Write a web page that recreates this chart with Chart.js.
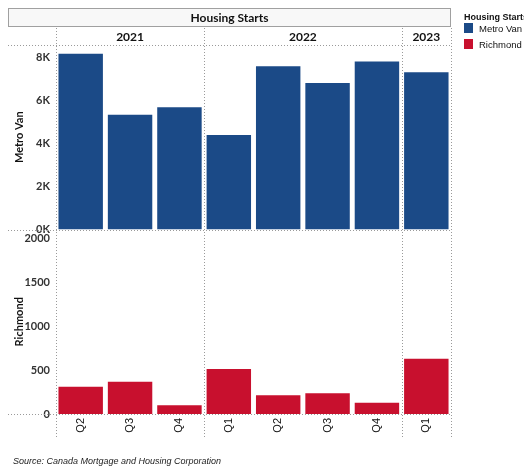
<!DOCTYPE html>
<html>
<head>
<meta charset="utf-8">
<script src="https://cdn.jsdelivr.net/npm/chart.js@4"></script>
<style>
  html, body { margin: 0; padding: 0; background: #fff; }
  #wrap { position: relative; width: 524px; height: 470px; overflow: hidden; }
  canvas { position: absolute; left: 0; top: 0; }
  .legend { position: absolute; left: 464px; top: 0; width: 60px; height: 60px; font-family: "Liberation Sans", Arial, sans-serif; font-size: 9.5px; color: #111; white-space: nowrap; }
  .legend .ttl { position: absolute; left: 0; top: 11px; font-weight: bold; font-size: 9px; height: 12px; line-height: 12px; }
  .legend .item { position: absolute; left: 0; height: 11px; line-height: 11px; }
  .legend .sw { position: absolute; left: 0; top: 0; width: 9px; height: 10px; }
  .legend .tx { position: absolute; left: 15px; top: 0; }
  .source { position: absolute; left: 13px; top: 456px; font-family: "Liberation Sans", Arial, sans-serif; font-size: 9px; font-style: italic; color: #222; white-space: nowrap; }
</style>
</head>
<body>
<div id="wrap">
  <canvas id="c" width="524" height="470"></canvas>
  <div class="legend" id="legend"></div>
  <div class="source" id="source"></div>
</div>
<script>
// ---- data ----
const chartTitle = 'Housing Starts';
const categories = ['Q2', 'Q3', 'Q4', 'Q1', 'Q2', 'Q3', 'Q4', 'Q1'];
const years = ['2021', '2022', '2023'];
const yearSpans = [3, 4, 1];
const seriesNames = ['Metro Van', 'Richmond'];
const metroVan = [8150, 5320, 5670, 4390, 7570, 6800, 7800, 7290];
const richmond = [309, 366, 100, 512, 212, 235, 127, 628];
const metroTicks = [0, 2000, 4000, 6000, 8000];
const metroTickLabels = ['0K', '2K', '4K', '6K', '8K'];
const richmondTicks = [0, 500, 1000, 1500, 2000];
const richmondTickLabels = ['0', '500', '1000', '1500', '2000'];
const sourceText = 'Source: Canada Mortgage and Housing Corporation';

const colors = ['#1b4a87', '#c8102e'];

// legend + source as HTML text
const lg = document.getElementById('legend');
lg.innerHTML = '<div class="ttl">' + chartTitle + '</div>' +
  seriesNames.map((n, i) => '<div class="item" style="top:' + (23 + i * 16) + 'px"><span class="sw" style="background:' + colors[i] + '"></span><span class="tx">' + n + '</span></div>').join('');
document.getElementById('source').textContent = sourceText;

const dotted = (ctx, x1, y1, x2, y2) => {
  ctx.save();
  ctx.strokeStyle = '#9a9a9a';
  ctx.lineWidth = 1;
  ctx.setLineDash([1, 2]);
  ctx.beginPath();
  ctx.moveTo(x1, y1);
  ctx.lineTo(x2, y2);
  ctx.stroke();
  ctx.restore();
};

const decor = {
  id: 'decor',
  beforeDatasetsDraw(chart) {
    const ctx = chart.ctx;
    const a = chart.chartArea;
    const yT = chart.scales.yM;
    const yB = chart.scales.yR;
    const catW = (a.right - a.left) / categories.length;
    const boxL = 8;
    // title box
    ctx.save();
    ctx.fillStyle = '#f8f8f8';
    ctx.fillRect(boxL, 8, a.right - boxL, 19);
    ctx.strokeStyle = '#a0a0a0';
    ctx.lineWidth = 1;
    ctx.strokeRect(boxL + 0.5, 8.5, a.right - boxL - 1, 18);
    ctx.fillStyle = '#111';
    ctx.font = 'bold 12px Lato, "Open Sans", sans-serif';
    ctx.textAlign = 'center';
    ctx.textBaseline = 'middle';
    ctx.fillText(chartTitle, (boxL + a.right) / 2, 18);
    // year header
    let idx = 0;
    const bounds = [a.left];
    years.forEach((yr, i) => {
      const x0 = a.left + idx * catW;
      idx += yearSpans[i];
      const x1 = a.left + idx * catW;
      bounds.push(x1);
      ctx.fillText(yr, (x0 + x1) / 2, 37);
    });
    ctx.restore();
    // horizontal dotted lines
    const yTop = Math.round(a.top) + 0.5;
    dotted(ctx, boxL, yTop, a.right, yTop);
    const z1 = Math.round(yT.getPixelForValue(0)) + 0.5;
    dotted(ctx, boxL, z1, a.right, z1);
    const z2 = Math.round(yB.getPixelForValue(0)) + 0.5;
    dotted(ctx, boxL, z2, a.right, z2);
    // vertical dotted lines
    bounds.forEach(bx => {
      const xx = Math.round(bx) + 0.5;
      dotted(ctx, xx, 28, xx, a.bottom + 24);
    });
  }
};

const tickFont = { family: 'Lato, "Open Sans", sans-serif', size: 11, weight: 'bold' };
const titleFont = { family: 'Lato, "Open Sans", sans-serif', size: 11, weight: 'bold' };

new Chart(document.getElementById('c'), {
  type: 'bar',
  data: {
    labels: categories,
    datasets: [
      { label: seriesNames[0], data: metroVan, yAxisID: 'yM', backgroundColor: colors[0], grouped: false, barPercentage: 0.9, categoryPercentage: 1.0 },
      { label: seriesNames[1], data: richmond, yAxisID: 'yR', backgroundColor: colors[1], grouped: false, barPercentage: 0.9, categoryPercentage: 1.0 }
    ]
  },
  options: {
    responsive: false,
    animation: false,
    layout: { padding: { top: 45, right: 73, bottom: 32, left: 0 } },
    plugins: { legend: { display: false }, title: { display: false }, tooltip: { enabled: false } },
    scales: {
      x: {
        grid: { display: false, drawTicks: false },
        border: { display: false },
        ticks: {
          autoSkip: false, minRotation: 90, maxRotation: 90, padding: 4,
          color: '#111', font: { family: '"Liberation Sans", Arial, sans-serif', size: 11 }
        },
        afterFit(s) { s.height = 24; }
      },
      yR: {
        type: 'linear', position: 'left', stack: 'panels', stackWeight: 1, weight: 0,
        min: 0, max: 2100,
        grid: { display: false, drawTicks: false }, border: { display: false },
        ticks: { padding: 6, color: '#333', font: tickFont, callback: (v) => richmondTickLabels[richmondTicks.indexOf(v)] },
        afterBuildTicks(s) { s.ticks = richmondTicks.map(v => ({ value: v })); },
        title: { display: true, text: seriesNames[1], color: '#111', font: titleFont, padding: { top: 13, bottom: 0 } },
        afterFit(s) { s.width = 56; }
      },
      yM: {
        type: 'linear', position: 'left', stack: 'panels', stackWeight: 1, weight: 1,
        min: 0, max: 8560,
        grid: { display: false, drawTicks: false }, border: { display: false },
        ticks: { padding: 6, color: '#333', font: tickFont, callback: (v) => metroTickLabels[metroTicks.indexOf(v)] },
        afterBuildTicks(s) { s.ticks = metroTicks.map(v => ({ value: v })); },
        title: { display: true, text: seriesNames[0], color: '#111', font: titleFont, padding: { top: 13, bottom: 0 } },
        afterFit(s) { s.width = 56; }
      }
    }
  },
  plugins: [decor]
});
</script>
</body>
</html>
